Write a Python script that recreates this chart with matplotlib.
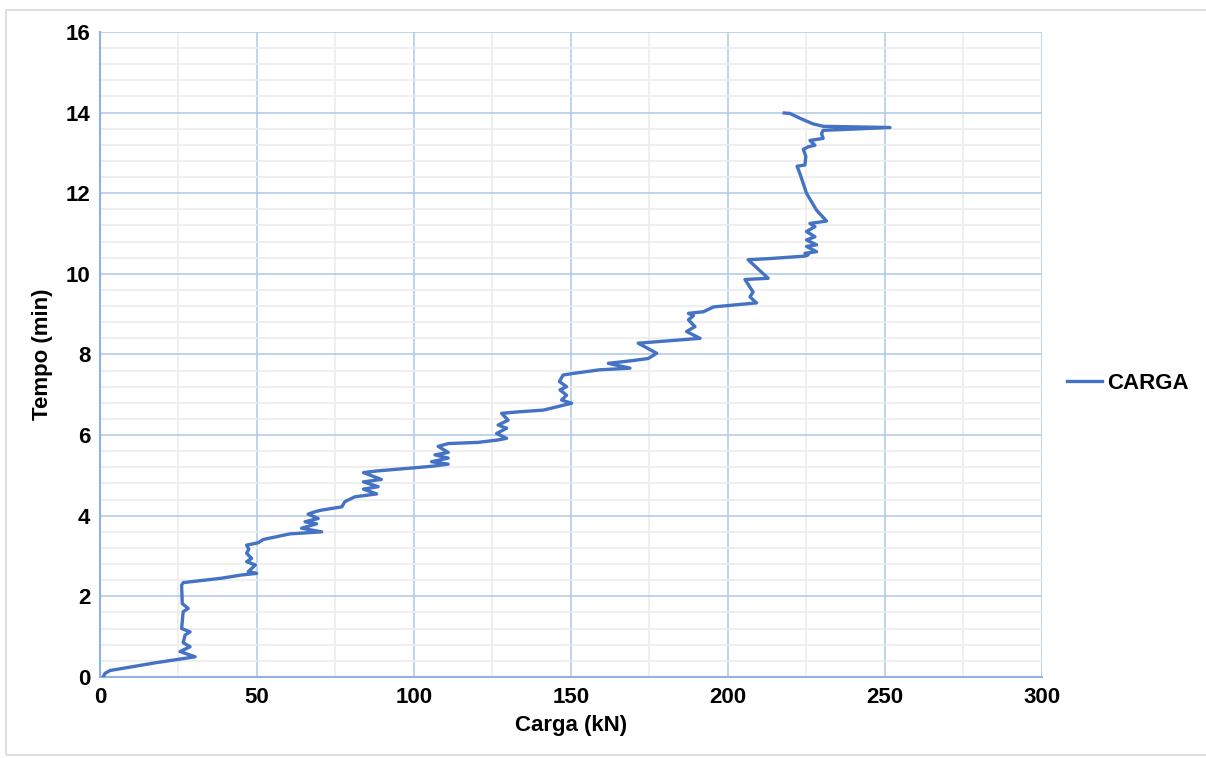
import matplotlib.pyplot as plt
from matplotlib.patches import Rectangle
from matplotlib.ticker import MultipleLocator

# load (kN) against elapsed time (min), read in test order
carga = [1.0, 1.6, 3.2, 17.5, 30.3, 25.5, 28.7, 26.5, 27.1, 28.7, 26.0, 26.5, 28.1, 26.2, 26.0, 26.5,
         38.7, 45.1, 49.9, 47.2, 49.5, 46.7, 48.3, 46.7, 47.4, 46.7, 50.4, 52.0,
         60.5, 70.6, 64.2, 69.0, 65.3, 69.5, 66.3, 68.5, 70.6, 77.0,
         78.0, 81.2, 88.1, 83.9, 88.6, 83.9, 89.6, 83.9, 88.1, 100.3, 106.1, 110.9,
         105.6, 110.9, 106.7, 110.9, 107.7, 110.9, 120.5, 126.8,
         129.5, 126.3, 129.5, 126.8, 130.0, 127.9, 133.8, 141.2, 150.2, 147.0,
         148.6, 146.5, 148.6, 146.3, 147.5, 150.7, 159.2, 168.8, 161.9, 169.8, 174.6,
         177.3, 171.4, 191.1, 186.8, 189.5, 187.4, 189.0, 187.4, 192.2, 195.4, 209.1,
         207.0, 208.0, 205.4, 212.8, 206.4, 213.4, 224.5,
         225.5, 224.5, 228.2, 225.0, 228.2, 225.0, 227.7, 225.0, 227.7, 226.1, 231.4,
         228.2, 225.0, 222.9, 222.0, 224.5, 224.8, 224.0, 225.5, 227.7, 226.1, 230.3,
         229.8, 230.3, 251.6, 230.3, 227.1, 222.9, 219.7, 217.9]
tempo = [0.00, 0.09, 0.16, 0.35, 0.50, 0.63, 0.75, 0.85, 1.04, 1.12, 1.20, 1.62, 1.70, 1.82, 2.28, 2.34,
         2.45, 2.53, 2.57, 2.61, 2.78, 2.86, 2.94, 3.07, 3.17, 3.27, 3.33, 3.41,
         3.55, 3.60, 3.69, 3.80, 3.85, 3.93, 4.04, 4.10, 4.14, 4.22,
         4.35, 4.47, 4.54, 4.66, 4.72, 4.84, 4.90, 5.07, 5.11, 5.19, 5.23, 5.28,
         5.34, 5.43, 5.51, 5.57, 5.72, 5.79, 5.82, 5.88,
         5.92, 6.04, 6.17, 6.25, 6.37, 6.54, 6.58, 6.62, 6.79, 6.87,
         6.99, 7.12, 7.20, 7.33, 7.49, 7.53, 7.62, 7.66, 7.78, 7.85, 7.90,
         8.03, 8.28, 8.40, 8.57, 8.69, 8.86, 8.96, 9.02, 9.06, 9.18, 9.28,
         9.43, 9.55, 9.86, 9.89, 10.35, 10.38, 10.44,
         10.47, 10.51, 10.55, 10.68, 10.72, 10.84, 10.92, 11.05, 11.17, 11.25, 11.31,
         11.58, 12.00, 12.49, 12.67, 12.70, 12.91, 13.09, 13.15, 13.19, 13.31, 13.36,
         13.48, 13.56, 13.63, 13.66, 13.72, 13.86, 13.98, 13.99]

plt.rcParams['font.family'] = ['Liberation Sans', 'DejaVu Sans']

fig = plt.figure(figsize=(12.06, 7.58), dpi=100)
fig.patches.append(Rectangle((6 / 1206, 3 / 758), 1.0, 745 / 758, transform=fig.transFigure,
                             fill=False, edgecolor='#d9d9d9', linewidth=1.2))
ax = fig.add_axes([0.0829, 0.1069, 0.7811, 0.8509])

ax.plot(carga, tempo, color='#4472C4', linewidth=2.4, label='CARGA', zorder=3,
        solid_joinstyle='round')

ax.set_xlim(0, 300)
ax.set_ylim(0, 16)
ax.xaxis.set_major_locator(MultipleLocator(50))
ax.xaxis.set_minor_locator(MultipleLocator(25))
ax.yaxis.set_major_locator(MultipleLocator(2))
ax.yaxis.set_minor_locator(MultipleLocator(0.4))
ax.grid(which='minor', color='#ececec', linewidth=1.2, zorder=0)
ax.grid(which='major', color='#b4cce8', linewidth=1.2, zorder=1)
ax.set_axisbelow(True)
ax.tick_params(which='both', length=0)
ax.tick_params(labelsize=16, pad=7)
for lab in ax.get_xticklabels() + ax.get_yticklabels():
    lab.set_fontweight('bold')

for side in ['top', 'right']:
    ax.spines[side].set_visible(False)
for side in ['left', 'bottom']:
    ax.spines[side].set_color('#8fb4e0')
    ax.spines[side].set_linewidth(1.5)

ax.set_xlabel('Carga (kN)', fontsize=16, fontweight='bold', labelpad=5)
ax.set_ylabel('Tempo (min)', fontsize=16, fontweight='bold', labelpad=9)

ax.legend(loc='center left', bbox_to_anchor=(1.005, 0.455), frameon=False,
          prop={'size': 16, 'weight': 'bold'}, handlelength=1.6, handletextpad=0.2)

fig.savefig('out.png', dpi=100)
